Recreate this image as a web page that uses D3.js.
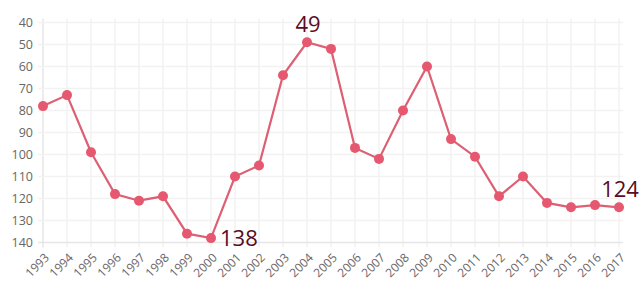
<!DOCTYPE html>
<html>
<head>
<meta charset="utf-8">
<script src="https://cdn.jsdelivr.net/npm/d3@7"></script>
<style>
  body { margin: 0; background: #fff; }
  svg { display: block; font-family: "Open Sans", "Noto Sans", sans-serif; }
</style>
</head>
<body>
<div id="chart"></div>
<script>
// data
var years = [1993, 1994, 1995, 1996, 1997, 1998, 1999, 2000, 2001, 2002, 2003, 2004, 2005,
  2006, 2007, 2008, 2009, 2010, 2011, 2012, 2013, 2014, 2015, 2016, 2017];
var ranks = [78, 73, 99, 118, 121, 119, 136, 138, 110, 105, 64, 49, 52,
  97, 102, 80, 60, 93, 101, 119, 110, 122, 124, 123, 124];
var yTicks = [40, 50, 60, 70, 80, 90, 100, 110, 120, 130, 140];
// which points get a big label, and where
var callouts = [
  { year: 2004, pos: 'top' },
  { year: 2000, pos: 'right' },
  { year: 2017, pos: 'top' }
];

var width = 644, height = 304;
var margin = { left: 43, right: 25, top: 22.5, bottom: 61.5 };

var svg = d3.select('#chart').append('svg')
  .attr('width', width)
  .attr('height', height);

var x = d3.scalePoint()
  .domain(years)
  .range([margin.left, width - margin.right]);

// reversed: smaller number on top
var y = d3.scaleLinear()
  .domain([40, 140])
  .range([margin.top, height - margin.bottom]);

var gridColor = '#f2f2f2';

// vertical grid
svg.append('g')
  .selectAll('line')
  .data(years)
  .enter()
  .append('line')
  .attr('x1', function (d) { return x(d); })
  .attr('x2', function (d) { return x(d); })
  .attr('y1', margin.top - 4)
  .attr('y2', height - margin.bottom + 5)
  .attr('stroke', function (d, i) { return i === 0 ? '#e6e6e6' : gridColor; })
  .attr('stroke-width', 1.5);

// horizontal grid
svg.append('g')
  .selectAll('line')
  .data(yTicks)
  .enter()
  .append('line')
  .attr('x1', margin.left - 5)
  .attr('x2', width - margin.right + 4)
  .attr('y1', function (d) { return y(d); })
  .attr('y2', function (d) { return y(d); })
  .attr('stroke', function (d) { return d === 140 ? '#e6e6e6' : gridColor; })
  .attr('stroke-width', 1.5);

// y tick labels
svg.append('g')
  .selectAll('text')
  .data(yTicks)
  .enter()
  .append('text')
  .attr('x', margin.left - 10)
  .attr('y', function (d) { return y(d); })
  .attr('dy', '0.35em')
  .attr('text-anchor', 'end')
  .attr('fill', '#666')
  .style('font-size', '12.5px')
  .text(function (d) { return d; });

// x tick labels, rotated
svg.append('g')
  .selectAll('text')
  .data(years)
  .enter()
  .append('text')
  .attr('transform', function (d) {
    return 'translate(' + (x(d) + 4) + ',' + (height - margin.bottom + 13) + ') rotate(-45)';
  })
  .attr('text-anchor', 'end')
  .attr('dy', '0.35em')
  .attr('fill', '#666')
  .style('font-size', '12px')
  .text(function (d) { return d; });

var pts = years.map(function (d, i) { return { year: d, value: ranks[i] }; });

var line = d3.line()
  .x(function (d) { return x(d.year); })
  .y(function (d) { return y(d.value); });

svg.append('path')
  .datum(pts)
  .attr('d', line)
  .attr('fill', 'none')
  .attr('stroke', '#dc5f73')
  .attr('stroke-width', 2.2);

svg.append('g')
  .selectAll('circle')
  .data(pts)
  .enter()
  .append('circle')
  .attr('cx', function (d) { return x(d.year); })
  .attr('cy', function (d) { return y(d.value); })
  .attr('r', 5)
  .attr('fill', '#e5586f');

// big value labels
svg.append('g')
  .selectAll('text')
  .data(callouts)
  .enter()
  .append('text')
  .attr('x', function (d) {
    return d.pos === 'right' ? x(d.year) + 9 : x(d.year) + 1;
  })
  .attr('y', function (d) {
    var v = ranks[years.indexOf(d.year)];
    return d.pos === 'right' ? y(v) + 8 : y(v) - 10;
  })
  .attr('text-anchor', function (d) { return d.pos === 'right' ? 'start' : 'middle'; })
  .attr('fill', '#5a0c22')
  .style('font-size', '22px')
  .text(function (d) { return ranks[years.indexOf(d.year)]; });
</script>
</body>
</html>
